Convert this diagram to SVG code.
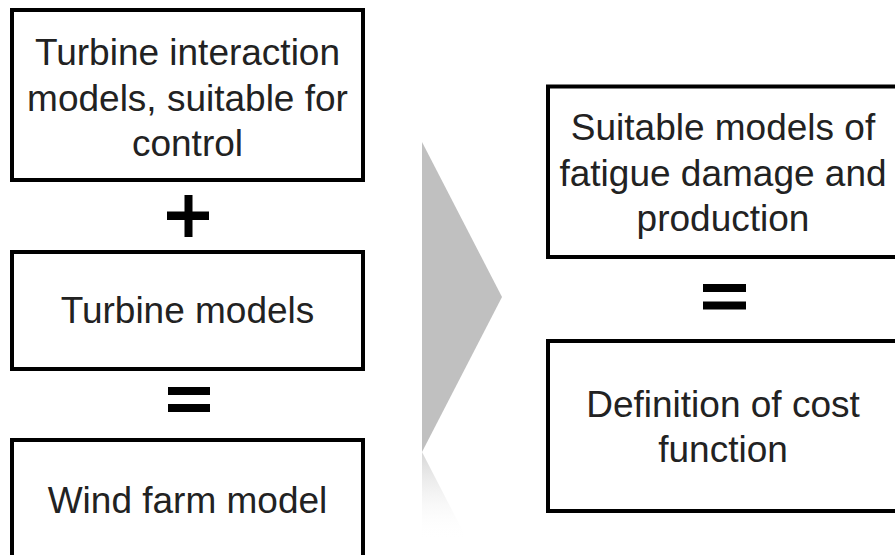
<svg xmlns="http://www.w3.org/2000/svg" width="895" height="555" viewBox="0 0 895 555">
  <style>
    .box { fill: #ffffff; stroke: #000000; stroke-width: 4; }
    .lbl { font-family: "Liberation Sans", Arial, Helvetica, sans-serif; font-size: 37px; fill: #222222; text-anchor: middle; }
    .op { fill: #000000; }
  </style>
  <defs>
    <linearGradient id="refl" x1="0" y1="452" x2="0" y2="540" gradientUnits="userSpaceOnUse">
      <stop offset="0" stop-color="#c8c8c8" stop-opacity="0.75"/>
      <stop offset="1" stop-color="#ffffff" stop-opacity="0"/>
    </linearGradient>
  </defs>
  <rect width="895" height="555" fill="#ffffff"/>

  <g id="connectors">
    <g id="big-arrow">
      <polygon points="422,142 502,297 422,452" fill="#c0c0c0"/>
      <polygon points="422,452 502,607 422,607" fill="url(#refl)"/>
    </g>
    <g id="plus-left">
      <rect class="op" x="167" y="211.5" width="42" height="8.5"/>
      <rect class="op" x="184.5" y="195" width="8" height="42"/>
    </g>
    <g id="equals-left">
      <rect class="op" x="168" y="387" width="42" height="8"/>
      <rect class="op" x="168" y="404" width="42" height="8"/>
    </g>
    <g id="equals-right">
      <rect class="op" x="703" y="284" width="43" height="8"/>
      <rect class="op" x="703" y="301.5" width="43" height="8"/>
    </g>
  </g>

  <g id="node-turbine-interaction">
    <rect class="box" x="12" y="10" width="351" height="170"/>
    <text class="lbl" x="187.5" y="65">Turbine interaction</text>
    <text class="lbl" x="187.5" y="110.5">models, suitable for</text>
    <text class="lbl" x="187.5" y="156">control</text>
  </g>

  <g id="node-turbine-models">
    <rect class="box" x="12" y="252" width="351" height="117"/>
    <text class="lbl" x="187.5" y="323">Turbine models</text>
  </g>

  <g id="node-wind-farm">
    <rect class="box" x="12" y="440" width="351" height="170"/>
    <text class="lbl" x="187.5" y="512.5">Wind farm model</text>
  </g>

  <g id="node-fatigue">
    <rect class="box" x="548" y="86.5" width="351" height="170.5"/>
    <text class="lbl" x="723" y="140">Suitable models of</text>
    <text class="lbl" x="723" y="185.5">fatigue damage and</text>
    <text class="lbl" x="723" y="231">production</text>
  </g>

  <g id="node-cost">
    <rect class="box" x="548" y="341" width="351" height="170"/>
    <text class="lbl" x="723" y="416.7">Definition of cost</text>
    <text class="lbl" x="723" y="461.7">function</text>
  </g>
</svg>
